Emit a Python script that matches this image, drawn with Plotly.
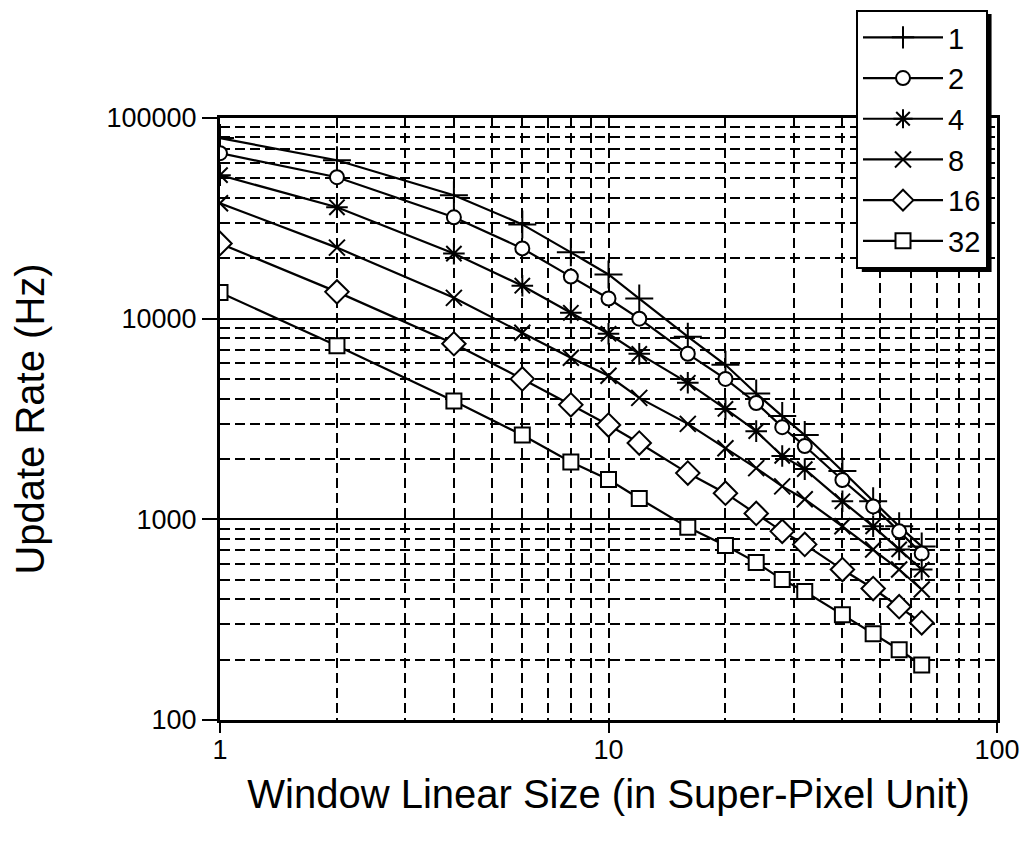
import plotly.graph_objects as go

x_sizes = [1, 2, 4, 6, 8, 10, 12, 16, 20, 24, 28, 32, 40, 48, 56, 64]

rate_1 = [79400, 61600, 41200, 29500, 21400, 16600, 12600, 8130, 5890, 4240, 3270, 2630, 1740, 1230, 923, 733]
rate_2 = [66800, 50700, 32000, 22400, 16200, 12600, 10000, 6680, 5010, 3800, 2880, 2320, 1570, 1160, 871, 676]
rate_4 = [51900, 35900, 21100, 14600, 10700, 8410, 6680, 4790, 3550, 2750, 2070, 1780, 1230, 923, 708, 562]
rate_8 = [37600, 22600, 12700, 8510, 6380, 5190, 4030, 2990, 2260, 1800, 1460, 1260, 923, 708, 562, 447]
rate_16 = [23700, 13600, 7500, 5010, 3720, 2950, 2400, 1700, 1350, 1070, 871, 750, 562, 452, 367, 305]
rate_32 = [13500, 7330, 3890, 2630, 1930, 1580, 1270, 912, 741, 610, 501, 437, 335, 269, 224, 188]

series_names = ["1", "2", "4", "8", "16", "32"]
series_values = [rate_1, rate_2, rate_4, rate_8, rate_16, rate_32]
series_symbols = ["cross-thin-open", "circle", "asterisk-open", "x-thin-open", "diamond", "square"]
series_fill = ["black", "white", "black", "black", "white", "white"]
series_sizes = [20, 14, 18, 16, 18, 15]

y_tickvals = [100, 1000, 10000, 100000]
y_ticktext = ["100", "1000", "10000", "100000"]
x_tickvals = [1, 10, 100]
x_ticktext = ["1", "10", "100"]

FONT = "Liberation Sans, Arial, sans-serif"

fig = go.Figure()
for name, vals, sym, fill, sz in zip(series_names, series_values, series_symbols, series_fill, series_sizes):
    fig.add_trace(go.Scatter(
        x=x_sizes, y=vals, name=name, mode="lines+markers",
        line=dict(color="black", width=2.2),
        marker=dict(symbol=sym, size=sz, color=fill,
                    line=dict(color="black", width=2)),
    ))

# legend drop shadow (thick right/bottom border look)
fig.add_shape(type="rect", xref="paper", yref="paper",
              x0=0.826, x1=0.993, y0=0.744, y1=1.1728,
              fillcolor="black", line=dict(width=0), layer="above")

fig.update_layout(
    width=1024, height=840,
    margin=dict(l=212, r=35, t=110, b=128, autoexpand=False),
    paper_bgcolor="white", plot_bgcolor="white",
    font=dict(family=FONT, color="black", size=27),
    showlegend=True,
    legend=dict(
        xref="container", yref="container",
        x=848 / 1024, y=1 - 2 / 840, xanchor="left", yanchor="top",
        bgcolor="white", bordercolor="black", borderwidth=2,
        font=dict(family=FONT, size=29, color="black"),
        itemwidth=80, tracegroupgap=0,
    ),
)

fig.update_xaxes(
    type="log", range=[0, 2], automargin=False,
    tickvals=x_tickvals, ticktext=x_ticktext,
    ticks="outside", ticklen=10, tickwidth=2, tickcolor="black",
    ticklabelstandoff=-6,
    showline=True, linewidth=3, linecolor="black", mirror=True,
    showgrid=True, gridcolor="black", gridwidth=2, griddash="10px,5px",
    minor=dict(dtick="D1", showgrid=True, gridcolor="black", gridwidth=2, griddash="10px,5px", ticks=""),
    tickfont=dict(size=27),
    title=dict(text="Window Linear Size (in Super-Pixel Unit)", font=dict(size=40), standoff=16),
    zeroline=False,
)
fig.update_yaxes(
    type="log", range=[2, 5], automargin=False,
    tickvals=y_tickvals, ticktext=y_ticktext,
    ticks="outside", ticklen=15, tickwidth=2, tickcolor="black",
    showline=True, linewidth=3, linecolor="black", mirror=True,
    showgrid=True, gridcolor="black", gridwidth=1.5,
    minor=dict(dtick="D1", showgrid=True, gridcolor="black", gridwidth=2, griddash="10px,5px", ticks=""),
    tickfont=dict(size=27),
    title=dict(text="Update Rate (Hz)", font=dict(size=40), standoff=52),
    zeroline=False,
)

fig.write_html("out.html")
